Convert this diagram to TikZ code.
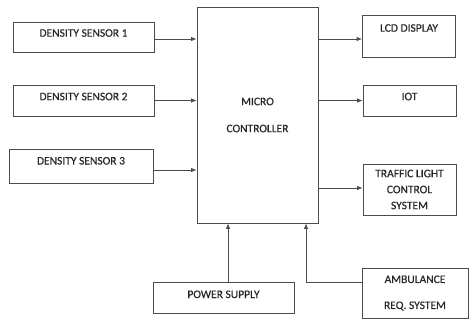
\documentclass[tikz,border=0pt]{standalone}
\usepackage{fontspec}
\setmainfont{Carlito}
\newfontfamily\boxfont[FakeBold=0.5]{Carlito}
\usetikzlibrary{arrows.meta}
\begin{document}
\begin{tikzpicture}[
        x=1pt, y=-1pt,
        font=\boxfont\fontsize{11.5}{16}\selectfont,
        block/.style={rectangle, draw=black!70, line width=0.8pt, text=black!85, inner sep=0pt, text height=8pt, text depth=8.6pt},
        tallblock/.style={rectangle, draw=black!70, line width=0.8pt, text=black!85, inner sep=0pt, align=center},
        arr/.style={draw=black!70, line width=0.8pt, -{Latex[length=5.5pt,width=4.5pt]}}
    ]
    \useasboundingbox (0,0) rectangle (470,322);
    % Sensores de entrada
    \node[block, minimum width=141pt, minimum height=30pt] (ds1) at (83.5,37) {DENSITY SENSOR 1};
    \node[block, minimum width=141pt, minimum height=31pt] (ds2) at (83.5,100.5) {DENSITY SENSOR 2};
    \node[block, minimum width=144pt, minimum height=34pt, text depth=11pt] (ds3) at (81,166) {DENSITY SENSOR 3};
    % Microcontrolador
    \node[tallblock, minimum width=121pt, minimum height=216pt] (micro) at (257.5,115) {MICRO\\[11pt]CONTROLLER};
    % Salidas
    \node[block, minimum width=93pt, minimum height=42pt, text depth=16.6pt] (lcd) at (409,36) {LCD DISPLAY};
    \node[block, minimum width=93pt, minimum height=31pt] (iot) at (409.5,100.5) {IOT};
    \node[tallblock, minimum width=93pt, minimum height=51pt] (traffic) at (409.5,189.5) {TRAFFIC LIGHT\\CONTROL\\SYSTEM};
    % Alimentacion y ambulancia
    \node[block, minimum width=141pt, minimum height=31pt, text depth=7pt] (power) at (223.5,297.5) {POWER SUPPLY};
    \node[tallblock, minimum width=106pt, minimum height=50pt] (amb) at (415,293) {AMBULANCE\\[10pt]REQ. SYSTEM};
    \coordinate (ambturn) at (306,282);
    % Conexiones
    \draw[arr] ([yshift=-2pt]ds1.east) -- ([yshift=-2pt]ds1.east -| micro.west);
    \draw[arr] (ds2.east) -- (ds2.east -| micro.west);
    \draw[arr] ([yshift=-4pt]ds3.east) -- ([yshift=-4pt]ds3.east -| micro.west);
    \draw[arr] ([yshift=-3pt]micro.east |- lcd.west) -- ([yshift=-3pt]lcd.west);
    \draw[arr] (micro.east |- iot.west) -- (iot.west);
    \draw[arr] ([yshift=1.5pt]micro.east |- traffic.west) -- ([yshift=1.5pt]traffic.west);
    \draw[arr] ([xshift=4.5pt]power.north) -- ([xshift=4.5pt]power.north |- micro.south);
    \draw[arr] (amb.west |- ambturn) -- (ambturn) -- (ambturn |- micro.south);
\end{tikzpicture}
\end{document}
